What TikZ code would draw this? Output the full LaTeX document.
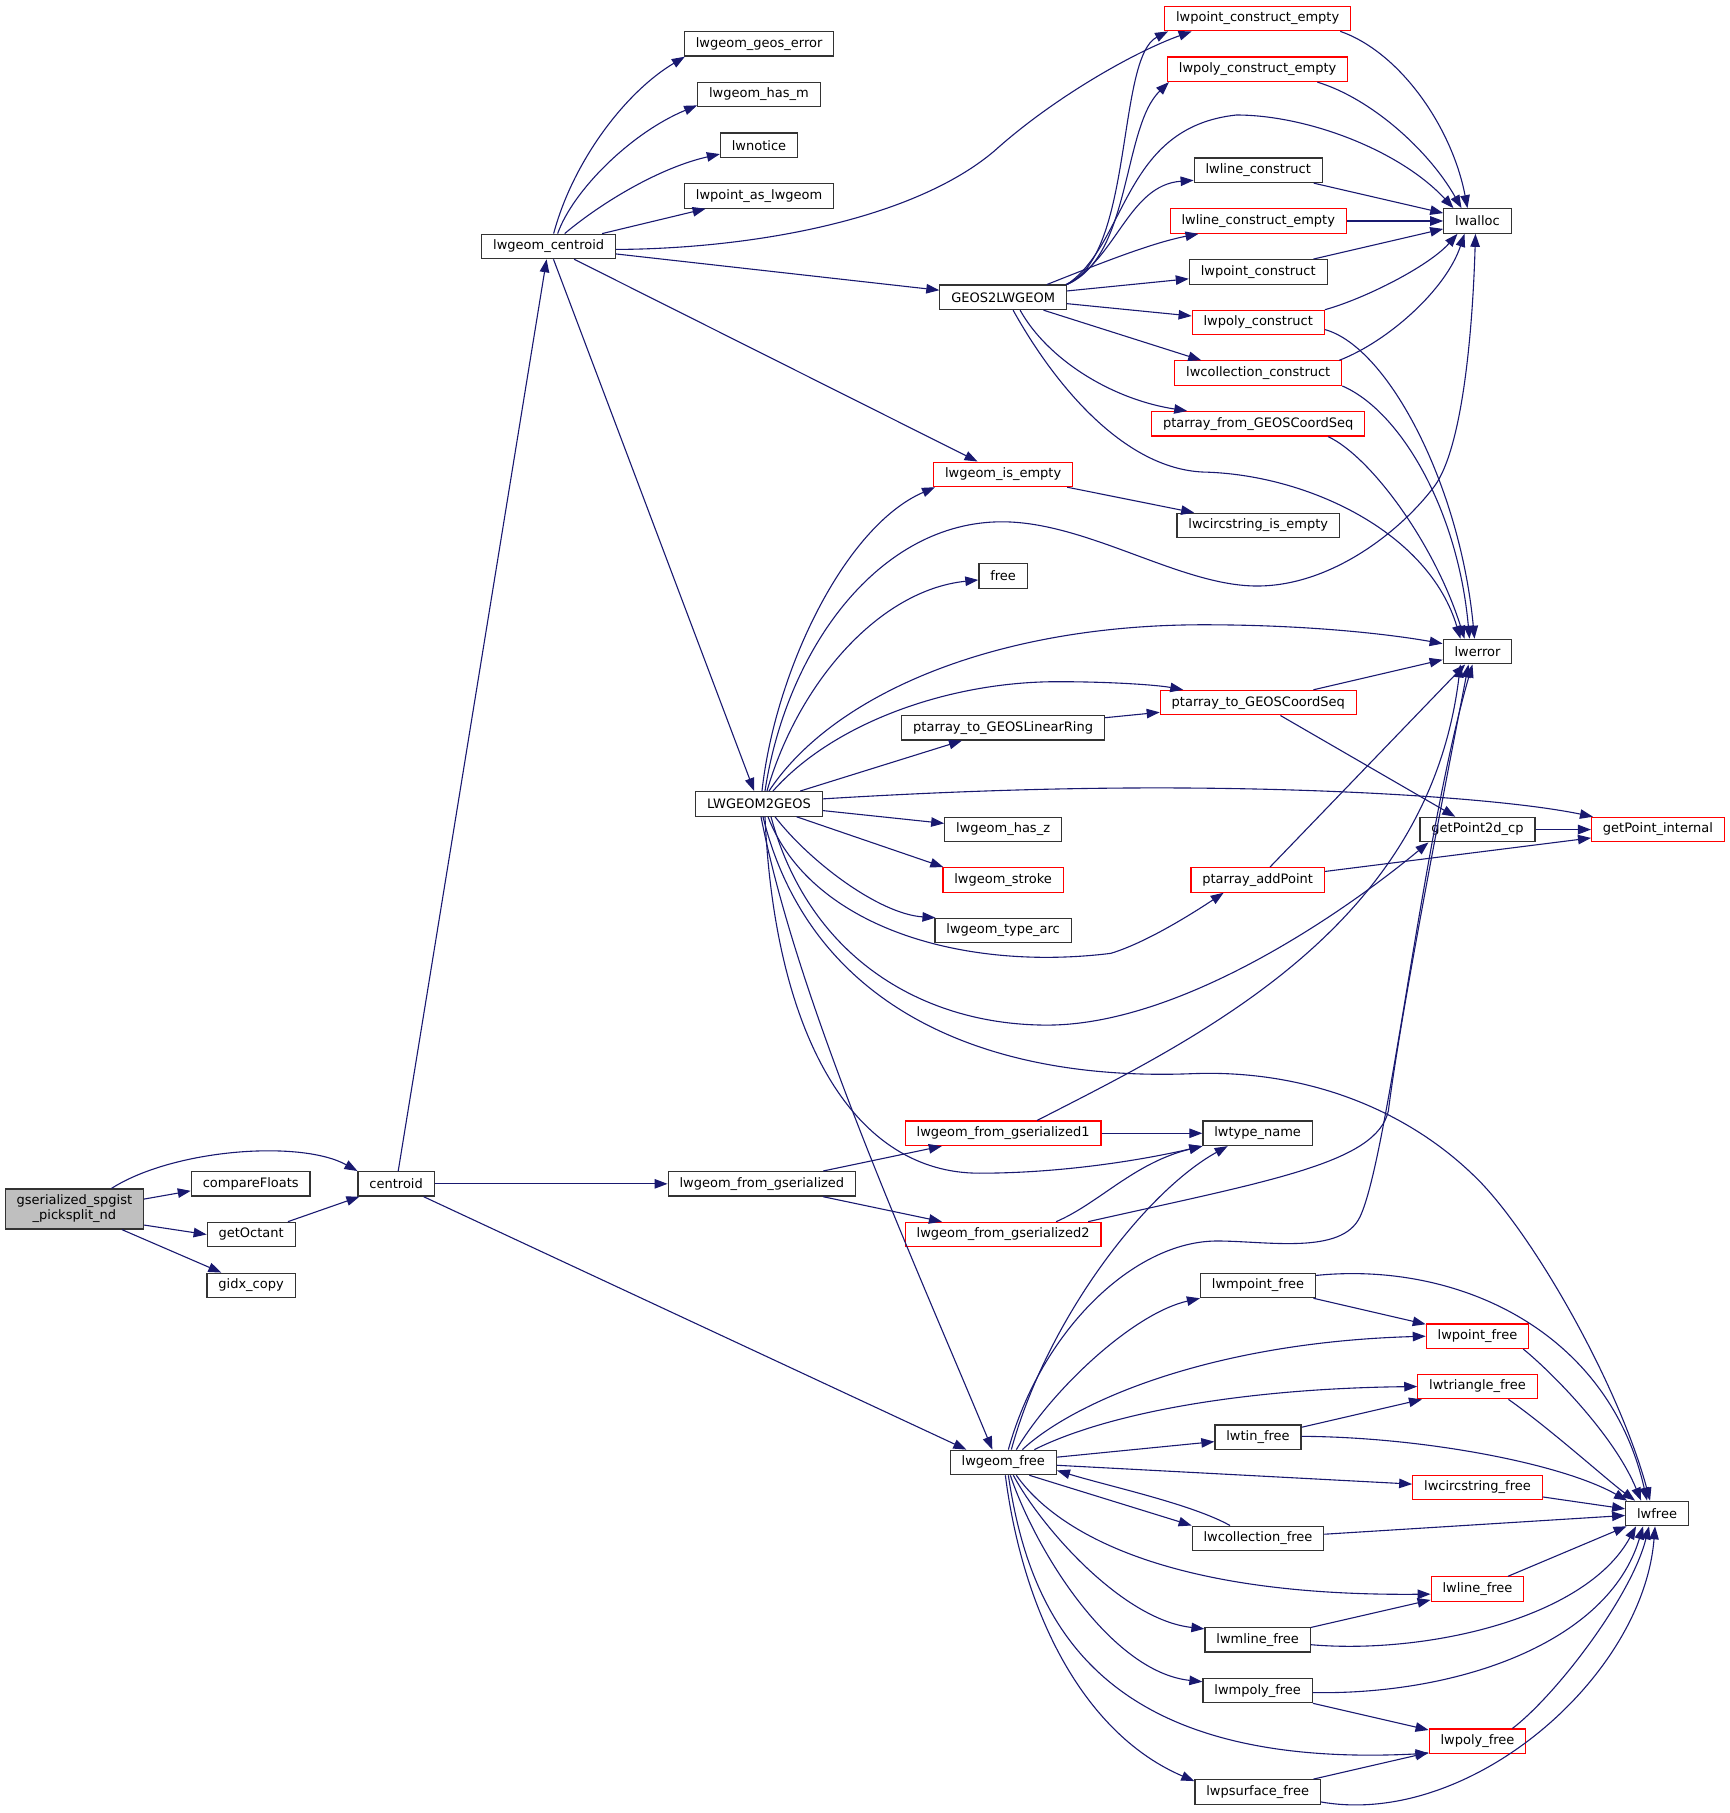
\documentclass[tikz,border=0pt]{standalone}
\usepackage{fontspec}
\setmainfont{DejaVu Sans}
\usetikzlibrary{arrows.meta}
\definecolor{edgeblue}{HTML}{191970}
\begin{document}
\begin{tikzpicture}[x=1.157pt,y=-1.157pt,
  fn/.style={draw=black!80,line width=1.2pt,fill=white,font=\fontsize{13}{15}\selectfont,inner xsep=11.4pt,inner ysep=0pt,minimum height=24.5pt},
  rfn/.style={fn,draw=red},
  gfn/.style={fn,fill=black!25,align=center,minimum height=40pt},
  e/.style={draw=edgeblue,line width=1.1pt,-{Triangle[length=13pt,width=9.5pt]}}]
\useasboundingbox (0,0) rectangle (1494.4,1567);
% nodes
\node[gfn] (p) at (64.3,1045) {gserialized\_spgist\\\_picksplit\_nd};
\node[fn] (cf) at (216.7,1023.2) {compareFloats};
\node[fn] (go) at (217.1,1067) {getOctant};
\node[fn] (gc) at (217,1111) {gidx\_copy};
\node[fn] (ct) at (342.4,1023.2) {centroid};
\node[fn] (lgs) at (658.5,1023.2) {lwgeom\_from\_gserialized};
\node[fn] (lc) at (474.2,213) {lwgeom\_centroid};
\node[fn] (ge) at (656.1,37.9) {lwgeom\_geos\_error};
\node[fn] (hm) at (656,81.7) {lwgeom\_has\_m};
\node[fn] (ln) at (656,125.5) {lwnotice};
\node[fn] (pa) at (656.1,169.3) {lwpoint\_as\_lwgeom};
\node[fn] (G) at (867,257) {GEOS2LWGEOM};
\node[rfn] (lie) at (867,410) {lwgeom\_is\_empty};
\node[fn] (L) at (656,694.8) {LWGEOM2GEOS};
\node[rfn] (lpce) at (1087,16) {lwpoint\_construct\_empty};
\node[rfn] (lpoe) at (1087,59.9) {lwpoly\_construct\_empty};
\node[fn] (llc) at (1087.5,147.2) {lwline\_construct};
\node[rfn] (llce) at (1087.5,191) {lwline\_construct\_empty};
\node[fn] (lpc) at (1087.5,235) {lwpoint\_construct};
\node[rfn] (lpoc) at (1087.5,278.8) {lwpoly\_construct};
\node[rfn] (lcc) at (1087.5,322.5) {lwcollection\_construct};
\node[rfn] (pfg) at (1087.5,366.3) {ptarray\_from\_GEOSCoordSeq};
\node[fn] (lcie) at (1087.5,454.2) {lwcircstring\_is\_empty};
\node[fn] (free) at (867,497.8) {free};
\node[fn] (ptlr) at (867,629) {ptarray\_to\_GEOSLinearRing};
\node[rfn] (ptcs) at (1087.5,607.3) {ptarray\_to\_GEOSCoordSeq};
\node[fn] (hz) at (867,717) {lwgeom\_has\_z};
\node[rfn] (stroke) at (867,760.5) {lwgeom\_stroke};
\node[fn] (arc) at (867,804.3) {lwgeom\_type\_arc};
\node[rfn] (pap) at (1087,760.5) {ptarray\_addPoint};
\node[fn] (gp2) at (1277,717) {getPoint2d\_cp};
\node[rfn] (gpi) at (1433,717) {getPoint\_internal};
\node[fn] (alloc) at (1277,191) {lwalloc};
\node[fn] (err) at (1277,563.2) {lwerror};
\node[rfn] (lgs1) at (867,979.5) {lwgeom\_from\_gserialized1};
\node[rfn] (lgs2) at (867,1067) {lwgeom\_from\_gserialized2};
\node[fn] (ltn) at (1087,979.5) {lwtype\_name};
\node[fn] (lf) at (867.2,1264) {lwgeom\_free};
\node[fn] (mpf) at (1087.3,1111) {lwmpoint\_free};
\node[rfn] (ptf) at (1277,1154.9) {lwpoint\_free};
\node[rfn] (trf) at (1277,1198.4) {lwtriangle\_free};
\node[fn] (tinf) at (1087.3,1242.3) {lwtin\_free};
\node[rfn] (csf) at (1277,1285.7) {lwcircstring\_free};
\node[fn] (colf) at (1087.3,1329.6) {lwcollection\_free};
\node[rfn] (lnf) at (1277,1373.5) {lwline\_free};
\node[fn] (mlf) at (1087,1417.2) {lwmline\_free};
\node[fn] (mpyf) at (1087,1461.2) {lwmpoly\_free};
\node[rfn] (pyf) at (1277,1505) {lwpoly\_free};
\node[fn] (psf) at (1087,1548.8) {lwpsurface\_free};
\node[fn] (lwfree) at (1432.2,1308.1) {lwfree};
% edges from root
\draw[e] ([xshift=37pt]p.north) .. controls (150,993) and (260,985) .. (ct.north west);
\draw[e] ([yshift=10pt]p.east) -- ([yshift=-7pt]cf.west);
\draw[e] ([yshift=-16pt]p.east) -- (go.west);
\draw[e] (p) -- (gc);
\draw[e] (go) -- (ct);
\draw[e] (ct) -- (lc);
\draw[e] (ct) -- (lgs);
\draw[e] (ct) -- ([xshift=-37pt]lf.north);
% lwgeom_centroid
\draw[e] ([xshift=5pt]lc.north) .. controls (495,140) and (540,80) .. ([xshift=1pt]ge.south west);
\draw[e] ([xshift=9pt]lc.north) .. controls (495,165) and (545,115) .. ([yshift=2pt]hm.south west);
\draw[e] ([xshift=16pt]lc.north) .. controls (520,175) and (570,145) .. ([yshift=4pt]ln.south west);
\draw[e] (lc) -- (pa);
\draw[e] ([yshift=-3pt]lc.east) .. controls (650,215) and (790,190) .. (860,130) .. controls (910,85) and (980,45) .. ([xshift=-66pt]lpce.south);
\draw[e] (lc) -- (G);
\draw[e] (lc) -- (lie);
\draw[e] (lc) -- (L);
% GEOS2LWGEOM
\draw[e] (G.north east) .. controls (980,220) and (965,50) .. ([xshift=4pt]lpce.south west);
\draw[e] (G.north east) .. controls (978,222) and (970,110) .. ([xshift=2pt]lpoe.south west);
\draw[e] (G.north east) .. controls (975,210) and (970,110) .. (1068.6,99.4) .. controls (1130,99.4) and (1210,130) .. ([xshift=-24pt]alloc.north);
\draw[e] ([xshift=-1pt]G.north east) .. controls (965,225) and (975,160) .. ([yshift=-10pt]llc.west);
\draw[e] ([xshift=-20pt]G.north east) .. controls (950,228) and (995,210) .. ([xshift=29pt]llce.south west);
\draw[e] (G) -- (lpc);
\draw[e] (G) -- (lpoc);
\draw[e] (G) -- ([xshift=-57pt]lcc.north);
\draw[e] ([xshift=17pt]G.south) .. controls (905,310) and (960,345) .. ([xshift=-71pt]pfg.north);
\draw[e] ([xshift=10pt]G.south) .. controls (910,330) and (970,405) .. (1040,408) .. controls (1130,410) and (1235,460) .. ([xshift=-17pt]err.north);
% to lwalloc / lwerror
\draw[e] ([xshift=-11pt]lpce.south east) .. controls (1210,45) and (1255,110) .. ([xshift=-10pt]alloc.north);
\draw[e] ([xshift=-31pt]lpoe.south east) .. controls (1185,85) and (1235,130) .. ([xshift=-16pt]alloc.north);
\draw[e] (llc) -- (alloc);
\draw[e] (llce) -- (alloc);
\draw[e] (lpc) -- (alloc);
\draw[e] (lpoc.north east) .. controls (1180,258) and (1235,230) .. ([xshift=-20pt]alloc.south);
\draw[e] ([yshift=-7pt]lpoc.east) .. controls (1200,300) and (1262,420) .. ([xshift=-3pt]err.north);
\draw[e] ([xshift=-3pt]lcc.north east) .. controls (1200,295) and (1250,250) .. ([xshift=-13pt]alloc.south);
\draw[e] (lcc.south east) .. controls (1210,355) and (1260,440) .. ([xshift=-8pt]err.north);
\draw[e] ([xshift=70pt]pfg.south) .. controls (1185,395) and (1240,470) .. ([xshift=-13pt]err.north);
\draw[e] (lie) -- (lcie);
% LWGEOM2GEOS
\draw[e] ([xshift=3pt]L.north) .. controls (670,580) and (730,455) .. ([xshift=2pt]lie.south west);
\draw[e] ([xshift=6pt]L.north) .. controls (680,560) and (760,451) .. (866,451) .. controls (940,451) and (1020,506.5) .. (1086.5,506.5) .. controls (1150,506.5) and (1210,460) .. (1240,420) .. controls (1265,385) and (1273,280) .. ([xshift=-2pt]alloc.south);
\draw[e] ([xshift=8pt]L.north) .. controls (690,590) and (760,510) .. ([yshift=-4pt]free.west);
\draw[e] ([xshift=10pt]L.north) .. controls (720,600) and (860,540) .. (1040,540) .. controls (1130,540) and (1200,548) .. ([yshift=8pt]err.west);
\draw[e] ([xshift=14pt]L.north) .. controls (720,625) and (820,589) .. (914.6,589.2) .. controls (960,589.2) and (1000,592) .. ([xshift=-75pt]ptcs.north);
\draw[e] (L) -- (ptlr);
\draw[e] (ptlr) -- (ptcs);
\draw[e] ([yshift=5pt]L.east) .. controls (800,685) and (900,681) .. (1000,681) .. controls (1150,681) and (1300,690) .. ([xshift=2pt]gpi.north west);
\draw[e] (L) -- (hz);
\draw[e] (L) -- ([xshift=1pt]stroke.north west);
\draw[e] ([xshift=16pt]L.south) .. controls (700,745) and (760,790) .. ([xshift=1pt]arc.north west);
\draw[e] ([xshift=9pt]L.south) .. controls (700,800) and (830,840) .. (960,824) .. controls (990,815) and (1030,790) .. ([xshift=-34pt]pap.south);
\draw[e] ([xshift=12pt]L.south) .. controls (700,830) and (800,886) .. (905,886) .. controls (1020,886) and (1160,790) .. ([xshift=9pt]gp2.south west);
\draw[e] ([xshift=6pt]L.south) .. controls (670,900) and (740,1014) .. (846.4,1014) .. controls (920,1014) and (990,1002) .. (ltn.south west);
\draw[e] ([xshift=4pt]L.south) .. controls (700,870) and (850,935) .. (1030,928) .. controls (1130,924) and (1220,960) .. (1280.6,1022.8) .. controls (1330,1075) and (1400,1200) .. ([xshift=-7pt]lwfree.north);
\draw[e] ([xshift=2pt]L.south) .. controls (690,870) and (790,1090) .. ([xshift=-11pt]lf.north);
% ptarray
\draw[e] (ptcs) -- (err);
\draw[e] (ptcs) -- (gp2);
\draw[e] (gp2) -- (gpi);
\draw[e] (pap) -- (err);
\draw[e] (pap) -- (gpi);
% lwgeom_from_gserialized
\draw[e] (lgs) -- (lgs1);
\draw[e] (lgs) -- (lgs2);
\draw[e] (lgs1) -- (ltn);
\draw[e] ([xshift=34pt]lgs1.north) .. controls (1040,895) and (1235,800) .. ([xshift=-17pt]err.south);
\draw[e] ([xshift=53pt]lgs2.north) .. controls (950,1040) and (980,1005) .. (ltn.south west);
\draw[e] ([xshift=85pt]lgs2.north) .. controls (1100,1020) and (1190,1005) .. (1200,960) .. controls (1210,880) and (1245,700) .. ([xshift=-9pt]err.south);
% lwgeom_free
\draw[e] ([xshift=5pt]lf.north) .. controls (900,1150) and (980,1072.6) .. (1052,1072.6) .. controls (1095,1072.6) and (1160,1085) .. (1175.5,1051.6) .. controls (1200,1000) and (1230,720) .. ([xshift=-5pt]err.south);
\draw[e] ([xshift=8pt]lf.north) .. controls (905,1140) and (990,1030) .. ([xshift=-30pt]ltn.south);
\draw[e] ([xshift=13pt]lf.north) .. controls (910,1200) and (980,1135) .. (mpf.south west);
\draw[e] ([xshift=19pt]lf.north) .. controls (930,1210) and (1050,1160) .. (ptf.west);
\draw[e] ([xshift=31pt]lf.north) .. controls (960,1220) and (1080,1200) .. (trf.west);
\draw[e] (lf) -- (tinf);
\draw[e] (lf) -- (csf);
\draw[e] ([xshift=26pt]lf.south) -- (colf.north west);
\draw[e] ([xshift=-28pt]colf.north) .. controls (1030,1300) and (960,1285) .. ([yshift=-8pt]lf.east);
\draw[e] ([xshift=13pt]lf.south) .. controls (910,1320) and (1000,1380) .. ([yshift=-5pt]lnf.west);
\draw[e] ([xshift=10pt]lf.south) .. controls (900,1320) and (970,1400) .. ([yshift=-2pt]mlf.north west);
\draw[e] ([xshift=7pt]lf.south) .. controls (895,1340) and (960,1445) .. ([yshift=-4pt]mpyf.north west);
\draw[e] ([xshift=5pt]lf.south) .. controls (890,1400) and (950,1530) .. ([yshift=-12pt]pyf.west);
\draw[e] ([xshift=2pt]lf.south) .. controls (885,1400) and (940,1500) .. ([yshift=-2pt]psf.north west);
% frees
\draw[e] (mpf) -- (ptf);
\draw[e] ([yshift=10pt]mpf.east) .. controls (1260,1090) and (1390,1150) .. ([xshift=-10pt]lwfree.north);
\draw[e] ([xshift=-6pt]ptf.south east) .. controls (1340,1185) and (1395,1240) .. ([xshift=-16pt]lwfree.north);
\draw[e] ([xshift=31pt]trf.south) .. controls (1340,1235) and (1390,1280) .. ([xshift=-22pt]lwfree.north);
\draw[e] (tinf) -- (trf);
\draw[e] ([yshift=1pt]tinf.east) .. controls (1230,1242) and (1350,1265) .. ([xshift=2pt]lwfree.north west);
\draw[e] (csf) -- (lwfree);
\draw[e] (colf) -- (lwfree);
\draw[e] (lnf) -- (lwfree);
\draw[e] (mlf) -- (lnf);
\draw[e] ([yshift=-5pt]mlf.east) .. controls (1230,1430) and (1370,1400) .. ([xshift=-21pt]lwfree.south);
\draw[e] (mpyf) -- (pyf);
\draw[e] ([yshift=-2pt]mpyf.east) .. controls (1260,1465) and (1390,1420) .. ([xshift=-14pt]lwfree.south);
\draw[e] ([xshift=-14pt]pyf.north east) .. controls (1345,1465) and (1410,1380) .. ([xshift=-8pt]lwfree.south);
\draw[e] (psf) -- (pyf);
\draw[e] ([yshift=-10pt]psf.east) .. controls (1270,1580) and (1420,1450) .. ([xshift=-2pt]lwfree.south);
\end{tikzpicture}
\end{document}
